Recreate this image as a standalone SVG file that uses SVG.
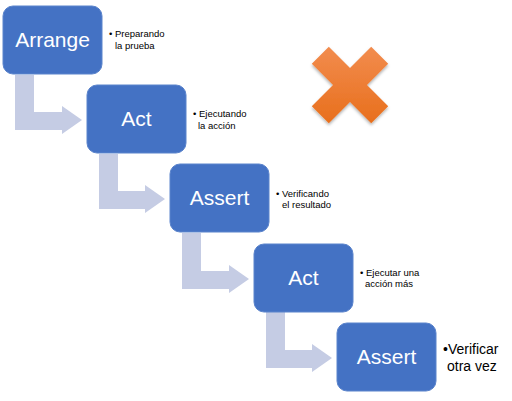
<svg xmlns="http://www.w3.org/2000/svg" width="512" height="401" viewBox="0 0 512 401">
<defs>
<style>
.box{fill:#4472C4;stroke:#5B84CC;stroke-width:1}
.lbl{font-family:"Liberation Sans",Arial,sans-serif;font-size:21px;fill:#FFFFFF;text-anchor:middle}
.note{font-family:"Liberation Sans",Arial,sans-serif;font-size:9.5px;fill:#000000}
.big{font-family:"Liberation Sans",Arial,sans-serif;font-size:14px;fill:#000000}
.arrow{fill:#C5CCE4}
</style>
<linearGradient id="og" x1="0" y1="0" x2="0" y2="1">
<stop offset="0" stop-color="#F28C4E"/>
<stop offset="1" stop-color="#E86F1C"/>
</linearGradient>
<filter id="sh" x="-20%" y="-20%" width="140%" height="140%">
<feDropShadow dx="0" dy="2" stdDeviation="1.5" flood-color="#000000" flood-opacity="0.3"/>
</filter>
</defs>
<rect width="512" height="401" fill="#FFFFFF"/>
<g id="connectors">
<path class="arrow" d="M15,75 H34 V112 H62 V106 L82,120 L62,134 V130 H15 Z"/>
<path class="arrow" d="M99,154 H118 V191 H145 V185 L165,199 L145,213 V209 H99 Z"/>
<path class="arrow" d="M182,233 H201 V271 H229 V265 L249,279 L229,293 V289 H182 Z"/>
<path class="arrow" d="M266,312 H285 V350 H312 V344 L332,358 L312,372 V368 H266 Z"/>
</g>
<g id="arrange">
<rect class="box" x="3" y="6" width="99" height="68" rx="10"/>
<text class="lbl" x="52.5" y="47">Arrange</text>
<text class="note" x="109" y="37">• Preparando</text>
<text class="note" x="115" y="49">la prueba</text>
</g>
<g id="act1">
<rect class="box" x="87" y="85" width="99" height="68" rx="10"/>
<text class="lbl" x="136.5" y="126">Act</text>
<text class="note" x="193" y="117">• Ejecutando</text>
<text class="note" x="198" y="129">la acción</text>
</g>
<g id="assert1">
<rect class="box" x="170" y="164" width="99" height="68" rx="10"/>
<text class="lbl" x="219.5" y="205">Assert</text>
<text class="note" x="276" y="197">• Verificando</text>
<text class="note" x="282" y="208">el resultado</text>
</g>
<g id="act2">
<rect class="box" x="254" y="244" width="99" height="68" rx="10"/>
<text class="lbl" x="303.5" y="285">Act</text>
<text class="note" x="360" y="276">• Ejecutar una</text>
<text class="note" x="365" y="287">acción más</text>
</g>
<g id="assert2">
<rect class="box" x="337" y="323" width="99" height="68" rx="10"/>
<text class="lbl" x="386.5" y="364">Assert</text>
<text class="big" x="443" y="354">•Verificar</text>
<text class="big" x="447" y="371">otra vez</text>
</g>
<g id="cross">
<polygon fill="url(#og)" filter="url(#sh)" points="371.2,46.8 388.2,63.8 367,85 388.2,106.2 371.2,123.2 350,102 328.8,123.2 311.8,106.2 333,85 311.8,63.8 328.8,46.8 350,68"/>
</g>
</svg>
